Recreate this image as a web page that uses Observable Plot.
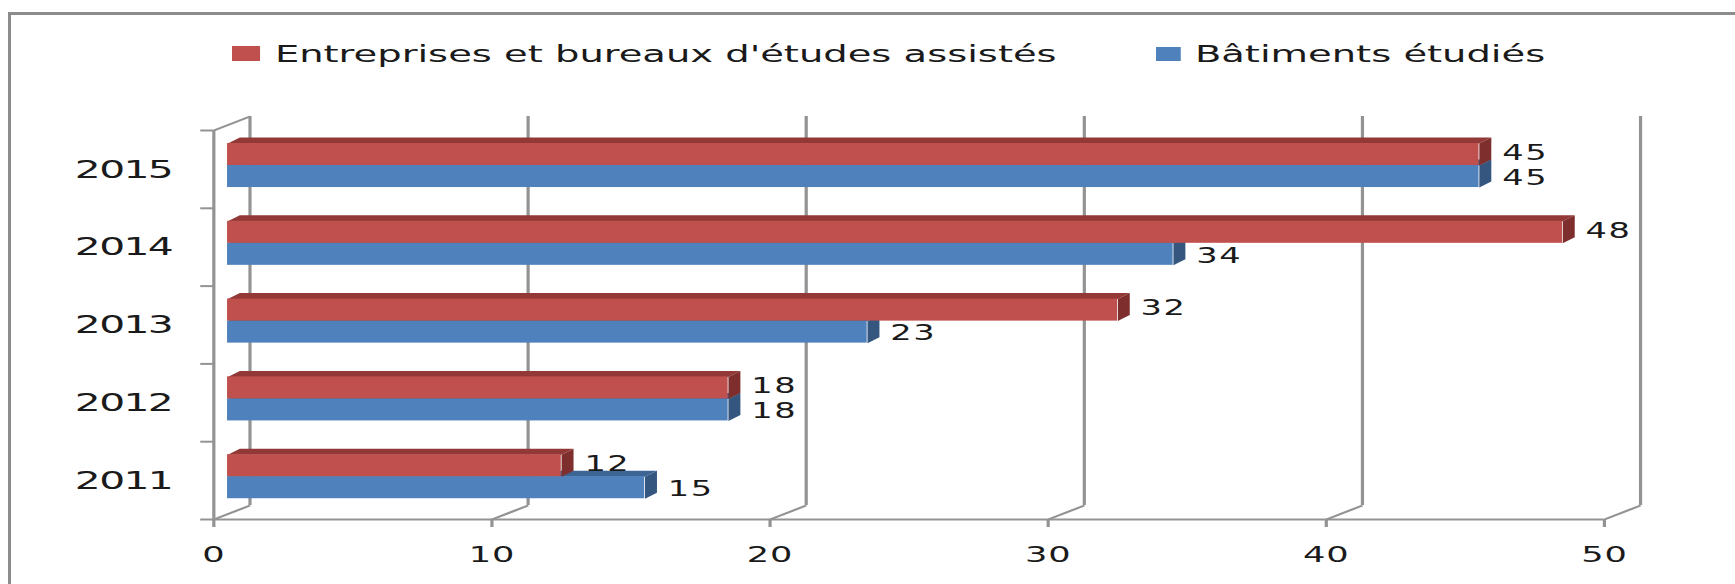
<!DOCTYPE html>
<html>
<head>
<meta charset="utf-8">
<script src="https://cdn.jsdelivr.net/npm/d3@7"></script>
<script src="https://cdn.jsdelivr.net/npm/@observablehq/plot@0.6"></script>
<style>
html, body { margin: 0; padding: 0; background: #fff; }
#root { position: relative; width: 1735px; height: 584px; overflow: hidden; font-family: "DejaVu Sans", sans-serif; }
#frame { position: absolute; left: 8px; top: 12px; right: -10px; bottom: -10px; border-left: 3px solid #8c8c8c; border-top: 3px solid #8c8c8c; z-index: 5; pointer-events: none; }
#legend { position: relative; height: 90px; }
#legend .inner { position: absolute; left: 232px; top: 0; width: 800px; height: 90px; transform: scaleX(1.65); transform-origin: 0 0; }
.sw { position: absolute; }
.lt { position: absolute; font-size: 23.3px; line-height: 23.3px; color: #1a1a1a; white-space: nowrap; top: 42.3px; }
g[aria-label="x-axis tick label"] text { letter-spacing: 0.5px; }
g[aria-label="y-axis tick label"] text { letter-spacing: -1px; }
g[aria-label="text"] text { letter-spacing: 1px; }
</style>
</head>
<body>
<div id="root">
  <div id="frame"></div>
  <div id="legend"><div class="inner" id="legendInner"></div></div>
  <div id="chart"></div>
</div>
<script>
// ---- data ----
const years = ["2011", "2012", "2013", "2014", "2015"];
const entreprises = [12, 18, 32, 48, 45];   // Entreprises et bureaux d'études assistés
const batiments = [15, 18, 23, 34, 45];     // Bâtiments étudiés
const xTicks = [0, 10, 20, 30, 40, 50];
const seriesNames = ["Entreprises et bureaux d'études assistés", "Bâtiments étudiés"];

// ---- style ----
const RED = "#C0504D", RED_TOP = "#923937", RED_SIDE = "#7E2F2D";
const BLUE = "#4F81BD", BLUE_TOP = "#3C6494", BLUE_SIDE = "#34567F";
const GRID = "#939393";
const INK = "#1a1a1a";
const WALL = {x: 1.3, y: 0.18};     // depth of the 3D walls (data units)
const BAR = {x: 0.43, y: 0.077};    // depth of the 3D bars (data units)
const BAR_DX = 8.75;                // bars sit mid-depth
const SLOT = {redTop: 0.833, mid: 0.55, blueBottom: 0.267};

// ---- legend ----
const li = document.getElementById("legendInner");
li.innerHTML =
  `<div class="sw" style="left:0;top:46px;width:17px;height:15px;background:${RED}"></div>` +
  `<div class="lt" style="left:26px">${seriesNames[0]}</div>` +
  `<div class="sw" style="left:560px;top:47px;width:15px;height:14px;background:${BLUE}"></div>` +
  `<div class="lt" style="left:583.6px">${seriesNames[1]}</div>`;

// ---- geometry built from data ----
const idx = years.map((_, i) => i);
function faces(values, yTop, yBottom, key) {
  const top = [], side = [];
  values.forEach((v, i) => {
    const t = i + yTop, b = i + yBottom;
    top.push({id: key + i, x: 0, y: t}, {id: key + i, x: BAR.x, y: t + BAR.y},
             {id: key + i, x: v + BAR.x, y: t + BAR.y}, {id: key + i, x: v, y: t});
    side.push({id: key + i, x: v, y: t}, {id: key + i, x: v + BAR.x, y: t + BAR.y},
              {id: key + i, x: v + BAR.x, y: b + BAR.y}, {id: key + i, x: v, y: b});
  });
  return {top, side};
}
const redF = faces(entreprises, SLOT.redTop, SLOT.mid, "r");
const blueF = faces(batiments, SLOT.mid, SLOT.blueBottom, "b");

const W = 1084, H = 494;

const plot = Plot.plot({
  width: W, height: H,
  marginLeft: 133.1, marginRight: W - 1001.9, marginTop: 40, marginBottom: 65,
  x: {domain: [0, 50], axis: null},
  y: {domain: [0, 5], axis: null},
  style: {fontFamily: "DejaVu Sans", color: INK, background: "transparent", overflow: "visible"},
  marks: [
    // back wall gridlines and floor slants
    Plot.ruleX(xTicks, {x: d => d + WALL.x, y1: () => WALL.y, y2: () => 5 + WALL.y, stroke: GRID, strokeWidth: 2}),
    Plot.link(xTicks, {x1: d => d, y1: () => 0, x2: d => d + WALL.x, y2: () => WALL.y, stroke: GRID, strokeWidth: 2}),
    Plot.link([0], {x1: () => 0, y1: () => 5, x2: () => WALL.x, y2: () => 5 + WALL.y, stroke: GRID, strokeWidth: 2}),
    // front axes lines
    Plot.ruleX([0], {x: d => d, y1: () => 0, y2: () => 5, stroke: GRID, strokeWidth: 2}),
    Plot.ruleY([0], {y: d => d, x1: () => 0, x2: () => 50, stroke: GRID, strokeWidth: 2}),
    Plot.axisY({ticks: idx.concat([5]), tickSize: 8, tickFormat: () => "", stroke: GRID, strokeWidth: 2, label: null}),
    Plot.axisY({ticks: idx.map(i => i + 0.5), tickSize: 0, tickPadding: 26, tickFormat: d => years[Math.floor(d)], fontSize: 25.5, fill: INK, label: null}),
    Plot.axisX({ticks: xTicks, tickSize: 8, tickPadding: 19, stroke: GRID, strokeWidth: 2, fill: INK, fontSize: 22, label: null}),
    // blue bars
    Plot.line(blueF.top, {x: "x", y: "y", z: "id", fill: BLUE_TOP, stroke: "none", curve: "linear-closed", dx: BAR_DX}),
    Plot.line(blueF.side, {x: "x", y: "y", z: "id", fill: BLUE_SIDE, stroke: "none", curve: "linear-closed", dx: BAR_DX}),
    Plot.rect(idx, {x1: () => 0, x2: i => batiments[i], y1: i => i + SLOT.blueBottom, y2: i => i + SLOT.mid, fill: BLUE, dx: BAR_DX}),
    // red bars
    Plot.line(redF.top, {x: "x", y: "y", z: "id", fill: RED_TOP, stroke: "none", curve: "linear-closed", dx: BAR_DX}),
    Plot.line(redF.side, {x: "x", y: "y", z: "id", fill: RED_SIDE, stroke: "none", curve: "linear-closed", dx: BAR_DX}),
    Plot.rect(idx, {x1: () => 0, x2: i => entreprises[i], y1: i => i + SLOT.mid, y2: i => i + SLOT.redTop, fill: RED, dx: BAR_DX}),
    // value labels
    Plot.text(idx, {x: i => entreprises[i], y: i => i + (SLOT.redTop + SLOT.mid) / 2, text: i => String(entreprises[i]), dx: 23, dy: -1.5, textAnchor: "start", fontSize: 21, fill: INK}),
    Plot.text(idx, {x: i => batiments[i], y: i => i + (SLOT.mid + SLOT.blueBottom) / 2, text: i => String(batiments[i]), dx: 23, dy: 1.5, textAnchor: "start", fontSize: 21, fill: INK})
  ]
});
plot.setAttribute("width", 1735);
plot.setAttribute("height", H);
plot.setAttribute("preserveAspectRatio", "none");
plot.style.width = "1735px";
plot.style.height = H + "px";
plot.style.maxWidth = "none";
plot.style.display = "block";
document.getElementById("chart").appendChild(plot);
</script>
</body>
</html>
